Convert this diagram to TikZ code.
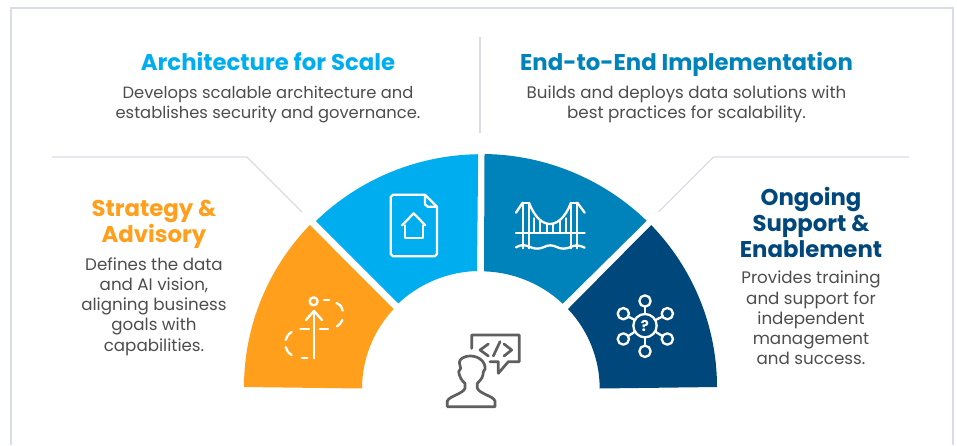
\documentclass[tikz,border=0pt]{standalone}
\usepackage{fontspec}
\setmainfont{Poppins}
\definecolor{cOrange}{HTML}{FF9F1C}
\definecolor{cSky}{HTML}{00AEEF}
\definecolor{cTeal}{HTML}{0082BA}
\definecolor{cNavy}{HTML}{00487C}
\definecolor{cBody}{HTML}{4D4D4D}
\definecolor{cRule}{HTML}{DADCE8}
\definecolor{cIcon}{HTML}{5F5F5F}
\tikzset{
  body/.style={align=center,text=cBody,inner sep=0pt,font=\fontsize{16.7}{20.2}\selectfont},
  bodytight/.style={align=center,text=cBody,inner sep=0pt,font=\fontsize{16.35}{20.2}\selectfont},
  head/.style={align=center,inner sep=0pt,font=\fontsize{22.8}{26}\selectfont\bfseries},
  rulel/.style={draw=cRule,line width=1.1pt},
  wicon/.style={draw=white,line width=2.3pt,line cap=round,line join=round},
  gicon/.style={draw=cIcon,line width=2.7pt,line cap=round,line join=round},
  zoomA/.style={shift={(240,150)},x=0.33333pt,y=-0.33333pt},
  zoomB/.style={shift={(480,150)},x=0.33333pt,y=-0.33333pt},
  zoomC/.style={shift={(430,320)},x=0.33333pt,y=-0.33333pt},
}
\begin{document}
\begin{tikzpicture}[x=1pt,y=-1pt]
\useasboundingbox (0,0) rectangle (957,445);
\fill[white] (0,0) rectangle (957,445);
% frame
\draw[draw=cRule,line width=2pt] (10.5,445) -- (10.5,8) -- (952.7,8) -- (952.7,445);
% rules
\draw[rulel] (480,37) -- (480,133);
\draw[rulel] (52,157) -- (247,157) -- (302,212);
\draw[rulel] (909,157) -- (713.5,157) -- (658.5,212);
% segments
\fill[cOrange] (244,387) arc[start angle=180,end angle=223.8,x radius=236.5,y radius=234] -- (393.7,309) arc[start angle=222.8,end angle=180,x radius=119,y radius=117] -- cycle;
\fill[cSky] (316,221) arc[start angle=225.6,end angle=269.2,x radius=236.5,y radius=234] -- (477,271) arc[start angle=268.3,end angle=226.3,x radius=119,y radius=117] -- cycle;
\fill[cTeal] (484.5,154) arc[start angle=270.8,end angle=314.4,x radius=236.5,y radius=234] -- (562.7,303.7) arc[start angle=313.7,end angle=271.7,x radius=119,y radius=117] -- cycle;
\fill[cNavy] (717,387) arc[start angle=360,end angle=316.2,x radius=236.5,y radius=234] -- (568,309) arc[start angle=317.2,end angle=360,x radius=119,y radius=117] -- cycle;
% orange icon
\begin{scope}[zoomA]
\draw[wicon] (221,454) circle[radius=12];
\draw[wicon] (222,483) -- (222,625);
\draw[wicon] (198,510) -- (222,483) -- (246,510);
\draw[wicon] (252,451) -- (268,451);
\draw[wicon] (289,459) .. controls (302,465) and (308,472) .. (308,482);
\draw[wicon] (307,510) .. controls (304,518) and (298,525) .. (291,529);
\draw[wicon] (181,537) -- (207,537);
\draw[wicon] (239,537) -- (264,537);
\draw[wicon] (155,546) .. controls (145,552) and (139,560) .. (137,570);
\draw[wicon] (137,591) .. controls (139,601) and (145,609) .. (155,615);
\draw[wicon] (185,624) -- (202,624);
% document icon
\draw[wicon] (555,134) -- (459,134) -- (452,141) -- (452,312) -- (459,319) -- (584,319) -- (591,312) -- (591,170) -- (555,134) -- (555,163) -- (563,170) -- (591,170);
\draw[wicon] (486,226) -- (521,190) -- (556,226);
\draw[wicon] (494,226) -- (494,264) -- (549,264) -- (549,226);
\end{scope}
% bridge icon
\begin{scope}[zoomB]
\draw[wicon] (128,158) -- (128,295);
\draw[wicon] (148,158) -- (148,295);
\draw[wicon] (272,158) -- (272,295);
\draw[wicon] (292,158) -- (292,295);
\draw[wicon] (128,158) -- (148,158);
\draw[wicon] (272,158) -- (292,158);
\draw[wicon] (108,188) -- (128,158);
\draw[wicon] (292,158) -- (314,188);
\draw[wicon] (148,160) .. controls (165,205) and (190,222) .. (210,222) .. controls (230,222) and (255,205) .. (272,160);
\draw[wicon] (108,248) -- (314,248);
\foreach \hx/\hy in {162/205,180/215,200/221,220/221,240/215,258/205}
  \draw[wicon] (\hx,\hy) -- (\hx,248);
\draw[wicon] (108,292) .. controls (125,282) and (135,285) .. (150,291) .. controls (165,298) and (180,297) .. (192,291) .. controls (205,284) and (218,285) .. (230,291) .. controls (245,298) and (258,297) .. (272,291) .. controls (285,284) and (298,285) .. (314,293);
% network icon
\draw[wicon] (495,527) circle[radius=35];
\foreach \sx/\sy in {495/453,495/604,430/491,562/491,430/567,562/567}
  \draw[wicon] (\sx,\sy) circle[radius=17];
\draw[wicon] (495,470) -- (495,492);
\draw[wicon] (495,562) -- (495,587);
\draw[wicon] (445,500) -- (465,510);
\draw[wicon] (547,500) -- (526,510);
\draw[wicon] (445,558) -- (465,545);
\draw[wicon] (547,558) -- (526,545);
\node[inner sep=0pt,text=white,font=\fontsize{15}{15}\selectfont\bfseries] (qmark) at (495,527) {?};
\end{scope}
% person icon
\begin{scope}[zoomC]
\draw[gicon] (125,85) -- (125,45) -- (268,45) -- (268,125) -- (235,125) -- (205,160) -- (205,125) -- (180,125);
\draw[gicon] (175,72) -- (150,90) -- (175,108);
\draw[gicon] (190,108) -- (210,65);
\draw[gicon] (222,72) -- (245,90) -- (222,108);
\draw[gicon] (52,260) -- (195,260) -- (195,243) .. controls (190,228) and (150,222) .. (142,205) -- (142,190) .. controls (155,178) and (160,168) .. (160,155) -- (165,148) .. controls (168,125) and (145,108) .. (122,108) .. controls (100,108) and (88,118) .. (88,128) -- (92,145) -- (86,155) .. controls (88,170) and (95,182) .. (105,190) -- (105,205) .. controls (98,222) and (58,228) .. (52,243) -- cycle;
\end{scope}
% text
\node[head,text=cSky,anchor=base] (t1) at (268,70) {Architecture for Scale};
\node[bodytight] (b1) at (268,104.5) {Develops scalable architecture and\\establishes security and governance.};
\node[head,text=cTeal,anchor=base] (t2) at (686.5,70) {End-to-End Implementation};
\node[body] (b2) at (686.5,104.5) {Builds and deploys data solutions with\\best practices for scalability.};
\node[head,text=cOrange] (t3) at (154,224) {Strategy \&\\Advisory};
\node[body] (b3) at (154,306.5) {Defines the data\\and AI vision,\\aligning business\\goals with\\capabilities.};
\node[head,text=cNavy] (t4) at (811,222) {Ongoing\\Support \&\\Enablement};
\node[body] (b4) at (811,318) {Provides training\\and support for\\independent\\management\\and success.};
\end{tikzpicture}
\end{document}
